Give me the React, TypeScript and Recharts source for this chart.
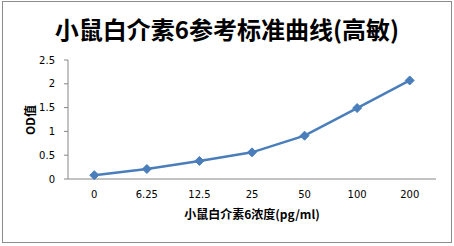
import React from 'react';
import { LineChart, Line, XAxis, YAxis } from 'recharts';

const categories = ['0', '6.25', '12.5', '25', '50', '100', '200'];
const odValues = [0.08, 0.21, 0.38, 0.56, 0.91, 1.49, 2.07];
const yTicks = [0, 0.5, 1, 1.5, 2, 2.5];
const title = '小鼠白介素6参考标准曲线(高敏)';
const xTitle = '小鼠白介素6浓度(pg/ml)';
const yTitle = 'OD值';

const data = categories.map((c, i) => ({ name: c, od: odValues[i] }));

const Diamond = (props: any) => {
  const { cx, cy } = props;
  if (cx == null || cy == null) return null;
  const r = 4.5;
  return (
    <path
      d={`M${cx},${cy - r}L${cx + r},${cy}L${cx},${cy + r}L${cx - r},${cy}Z`}
      fill="#4a7ebb"
      stroke="#4a7ebb"
      strokeWidth={1}
    />
  );
};

export default function App() {
  const font = 'DejaVu Sans, sans-serif';
  return (
    <div style={{ position: 'absolute', left: 0, top: 0, width: 454, height: 246, background: '#fff' }}>
      <div
        style={{
          position: 'absolute',
          left: 2,
          top: 1,
          width: 448,
          height: 240,
          border: '1px solid #8c8c8c',
        }}
      />
      <LineChart
        width={454}
        height={246}
        data={data}
        margin={{ top: 60, right: 18, left: 0, bottom: 0 }}
        style={{ position: 'absolute', left: 0, top: 0 }}
      >
        <text
          x={227}
          y={39}
          textAnchor="middle"
          fontFamily="'Noto Sans CJK SC', sans-serif"
          fontWeight="bold"
          fontSize={24}
          fill="#000"
        >
          {title}
        </text>
        <text
          x={252}
          y={219}
          textAnchor="middle"
          fontFamily="'Noto Sans CJK SC', sans-serif"
          fontWeight="bold"
          fontSize={12}
          fill="#000"
        >
          {xTitle}
        </text>
        <text
          x={0}
          y={0}
          transform="translate(35,120) rotate(-90)"
          textAnchor="middle"
          fontFamily="'Noto Sans CJK SC', sans-serif"
          fontWeight="bold"
          fontSize={12}
          fill="#000"
        >
          {yTitle}
        </text>
        <XAxis
          dataKey="name"
          scale="band"
          height={67}
          tickLine={false}
          tickSize={0}
          tickMargin={12}
          axisLine={{ stroke: '#868686', strokeWidth: 1 }}
          tick={{ fontSize: 10, fill: '#000', fontFamily: font }}
          interval={0}
        />
        <YAxis
          width={68}
          domain={[0, 2.5]}
          ticks={yTicks}
          tickSize={4}
          tickMargin={9}
          axisLine={{ stroke: '#868686', strokeWidth: 1 }}
          tickLine={{ stroke: '#868686' }}
          tick={{ fontSize: 10, fill: '#000', fontFamily: font }}
          interval={0}
        />
        <Line
          type="linear"
          dataKey="od"
          stroke="#4a7ebb"
          strokeWidth={2.5}
          dot={<Diamond />}
          activeDot={false}
          isAnimationActive={false}
        />
      </LineChart>
    </div>
  );
}
